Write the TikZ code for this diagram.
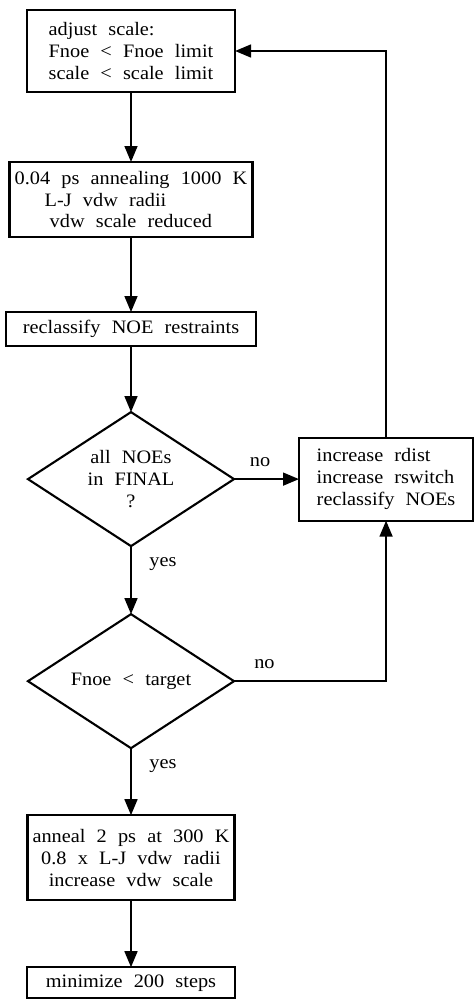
\documentclass[tikz,border=0pt]{standalone}
\usepackage{fontspec}
\setmainfont{Liberation Serif}[WordSpace=2.2,FakeStretch=1.07]
\usetikzlibrary{arrows.meta,positioning,shapes.geometric}

\begin{document}
\begin{tikzpicture}[x=0.025cm,y=-0.025cm,->,>={Triangle[length=4mm,width=3.2mm]},line width=1.5pt,
  every node/.style={font=\fontsize{13.5}{15.6}\selectfont},
  box node/.style={draw,rectangle,inner sep=2pt,outer sep=0pt},
  test node/.style={draw,diamond,aspect=1.54,minimum width=5.15cm,minimum height=3.35cm,inner sep=0pt,outer sep=0pt,align=center}]
  \useasboundingbox (0,0) rectangle (475,1000);

  \node[box node,minimum width=5.2cm,minimum height=2.05cm,align=left] (adjust) at (131,51) {adjust scale:\\Fnoe < Fnoe limit\\scale < scale limit};
  \node[box node,minimum width=6.075cm,minimum height=1.875cm,align=left] (hot) [below=1.75cm of adjust] {0.04 ps annealing 1000 K\\\hspace*{0.75cm}L-J vdw radii\\\hspace*{0.875cm}vdw scale reduced};
  \node[box node,minimum width=6.25cm,minimum height=0.85cm] (reclass) [below=1.875cm of hot] {reclassify NOE restraints};
  \node[test node] (final) [below=1.65cm of reclass] {all NOEs\\in FINAL\\?};
  \node[box node,minimum width=4.35cm,minimum height=2.075cm,align=left] (raise) [right=1.625cm of final] {increase rdist\\increase rswitch\\reclassify NOEs};
  \node[test node] (target) [below=1.7cm of final] {Fnoe < target};
  \node[box node,minimum width=5.175cm,minimum height=2.125cm,align=center] (cool) [below=1.675cm of target] {anneal 2 ps at 300 K\\0.8 x L-J vdw radii\\increase vdw scale};
  \node[box node,minimum width=5.2cm,minimum height=0.775cm] (mini) [below=1.675cm of cool] {minimize 200 steps};

  \path
    (adjust) edge (hot)
    (hot) edge (reclass)
    (reclass) edge (final)
    (final) edge node[above=5pt,pos=0.4] {no} (raise)
    (final) edge node[right=9pt,pos=0.26] {yes} (target)
    (target) edge node[right=9pt,pos=0.26] {yes} (cool)
    (cool) edge (mini)
    ;
  \draw (target) -| node[above=5pt,pos=0.1] {no} (raise);
  \draw (raise) |- (adjust);
\end{tikzpicture}
\end{document}
